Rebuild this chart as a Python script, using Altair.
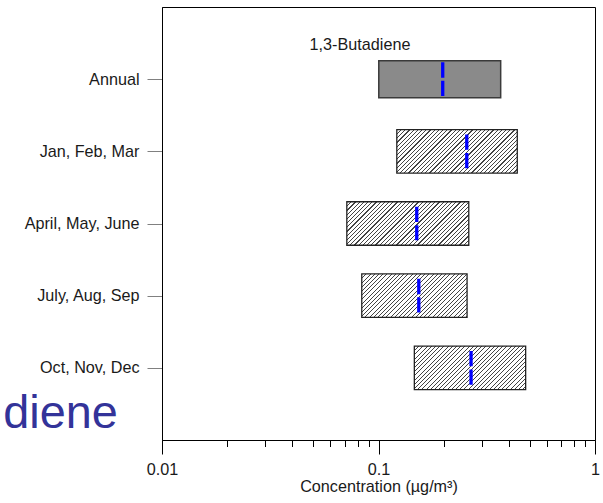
import math
import altair as alt
import pandas as pd

# ---- data ----
categories = ["Annual", "Jan, Feb, Mar", "April, May, June", "July, Aug, Sep", "Oct, Nov, Dec"]
low = [0.1003, 0.1215, 0.0714, 0.0837, 0.1464]
high = [0.3667, 0.4375, 0.2612, 0.2565, 0.4783]
median = [0.198, 0.2557, 0.1502, 0.1535, 0.2676]
species = "1,3-Butadiene"
slide_fragment = "diene"
x_major = [0.01, 0.1, 1]
x_minor = [m * 10.0 ** e for e in (-2, -1) for m in range(2, 10)]

df = pd.DataFrame({
    "cat": categories,
    "idx": list(range(1, len(categories) + 1)),
    "lo": low,
    "hi": high,
    "med": median,
})

W, H = 433, 433
FONT = "Liberation Sans"
FS = 16.2
step = H / 6.0
half_hatch = 43.5 / 2 / step
half_annual = 37.0 / 2 / step
half_med = 33.6 / 2 / step

xscale = alt.Scale(type="log", domain=[0.01, 1])
yscale = alt.Scale(domain=[0, 6], reverse=True, nice=False, zero=False)

label_map = "[" + ",".join("'" + c + "'" for c in categories) + "]"
major_test = "indexof([0.01, 0.1, 1], datum.value) >= 0"

x_axis = alt.Axis(
    values=x_major + x_minor, format="~g",
    labelExpr=f"{major_test} ? datum.label : ''",
    tickSize={"condition": {"test": major_test, "value": 14}, "value": 6.5},
    title="Concentration (µg/m³)", titleFont=FONT, titleFontSize=FS,
    titleFontWeight="normal", titleColor="#1a1a1a", titlePadding=1,
    labelFont=FONT, labelFontSize=FS, labelColor="#1a1a1a", labelPadding=7,
    tickColor="black", domainColor="black", grid=False, labelFlush=False,
)
y_axis = alt.Axis(
    values=list(range(1, len(categories) + 1)),
    labelExpr=f"{label_map}[datum.value - 1]",
    title=None, tickSize=15, tickColor="#808080", domainColor="black",
    labelFont=FONT, labelFontSize=FS, labelColor="#1a1a1a", labelPadding=8,
    grid=False,
)


def xenc(field):
    return alt.X(field, scale=xscale, axis=x_axis, title="Concentration (µg/m³)")


def yenc(field):
    return alt.Y(field, scale=yscale, axis=y_axis, title=None)


base = alt.Chart(df)

annual = base.transform_filter(alt.datum.cat == categories[0]).transform_calculate(
    y0=f"datum.idx - {half_annual}", y1=f"datum.idx + {half_annual}"
).mark_rect(fill="#8a8a8a", stroke="#3a3a3a", strokeWidth=1.5).encode(
    x=xenc("lo:Q"), x2="hi:Q", y=yenc("y0:Q"), y2="y1:Q",
)

layers = [annual]
for i in range(1, len(categories)):
    w = W / 2.0 * math.log10(high[i] / low[i])
    h = 43.5
    k = (w + h) / (w * w + h * h)
    span = w + h
    period = 4.2 / span
    line = 1.1 / span
    stops = []
    a = 0.0
    while a < 1.0:
        b = min(a + line, 1.0)
        stops += [
            {"offset": a, "color": "white"},
            {"offset": a, "color": "#444444"},
            {"offset": b, "color": "#444444"},
            {"offset": b, "color": "white"},
        ]
        a += period
    stops.append({"offset": 1.0, "color": "white"})
    grad = {"gradient": "linear", "x1": 0, "y1": 0, "x2": k * w, "y2": k * h, "stops": stops}
    layer = base.transform_filter(alt.datum.cat == categories[i]).transform_calculate(
        y0=f"datum.idx - {half_hatch}", y1=f"datum.idx + {half_hatch}"
    ).mark_rect(fill=grad, stroke="#222222", strokeWidth=1.3).encode(
        x=xenc("lo:Q"), x2="hi:Q", y=yenc("y0:Q"), y2="y1:Q",
    )
    layers.append(layer)

med = base.transform_calculate(
    y0=f"datum.idx - {half_med}", y1=f"datum.idx + {half_med}"
).mark_rule(color="#0000ff", strokeWidth=3.3, strokeDash=[15.3, 3.2]).encode(
    x=xenc("med:Q"), y=yenc("y0:Q"), y2="y1:Q",
)
layers.append(med)

label = alt.Chart(pd.DataFrame({"t": [species]})).mark_text(
    font=FONT, fontSize=FS, color="#1a1a1a", align="center", baseline="alphabetic"
).encode(text="t:N", x=alt.value(198), y=alt.value(43))
layers.append(label)

frag = alt.Chart(pd.DataFrame({"t": [slide_fragment]})).mark_text(
    font=FONT, fontSize=46.8, color="#333399", align="left", baseline="alphabetic"
).encode(text="t:N", x=alt.value(-158.7), y=alt.value(420.8))
layers.append(frag)

chart = alt.layer(*layers).properties(
    width=W, height=H,
    padding={"left": 162, "top": 7, "right": 8, "bottom": 63},
    autosize=alt.AutoSizeParams(type="none"),
    background="white",
).configure_view(stroke="black", strokeWidth=1)

chart.save("out.html", embed_options={"renderer": "svg", "actions": False})
